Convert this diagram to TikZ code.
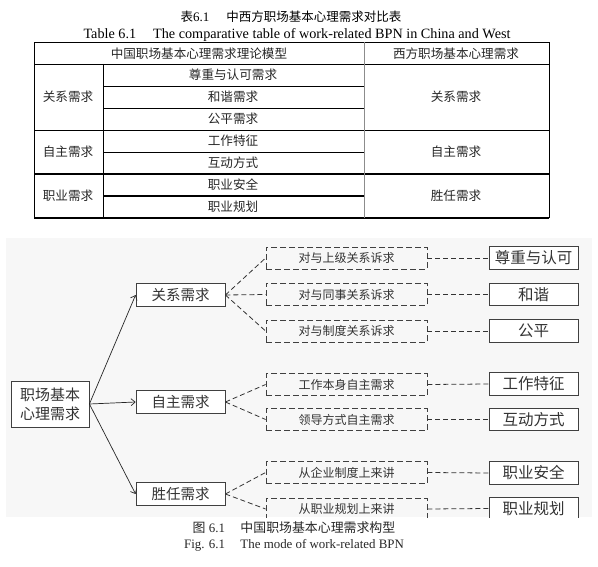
\documentclass[tikz,border=0pt]{standalone}
\usepackage{fontspec}
\setmainfont{Liberation Serif}
\newfontfamily\cjk{Noto Sans CJK SC}
\usetikzlibrary{arrows.meta}
\begin{document}
\begin{tikzpicture}[x=1pt,y=-1pt,
  tline/.style={draw=black, line width=0.7pt},
  thick line/.style={draw=black, line width=1.6pt},
  tcell/.style={font=\cjk\fontsize{12.6}{14}\selectfont, text=black!85, inner sep=0pt},
  ttitle/.style={font=\fontsize{14.2}{16}\selectfont, text=black, inner sep=0pt},
  solidbox/.style={draw=black!75, line width=0.8pt, fill=white, minimum width=89pt, minimum height=22.5pt, inner sep=0pt, text=black!80},
  rootbox/.style={solidbox, minimum width=78pt, minimum height=46pt, align=center, font=\cjk\fontsize{15}{19}\selectfont},
  midbox/.style={solidbox, font=\cjk\fontsize{14.5}{16}\selectfont},
  rightbox/.style={solidbox, font=\cjk\fontsize{15.5}{17}\selectfont},
  dbox/.style={draw=black!75, line width=0.8pt, dash pattern=on 6pt off 3pt, minimum width=161pt, minimum height=22pt, inner sep=0pt, text=black!80, font=\cjk\fontsize{12}{14}\selectfont},
  solidarrow/.style={draw=black!85, line width=0.7pt, -{Straight Barb[length=4pt,width=7pt]}},
  dline/.style={draw=black!80, line width=0.8pt, dash pattern=on 5pt off 3pt},
  capt/.style={font=\fontsize{12.9}{15}\selectfont, text=black!85, inner sep=0pt}
]
\useasboundingbox (0,0) rectangle (598,567);
% ---------- titles ----------
\node[ttitle] (t1) at (291,17) {{\cjk\fontsize{12.5}{15}\selectfont 表}{\fontsize{13}{15}\selectfont 6.1}\hspace{1.2em}{\cjk\fontsize{12.5}{15}\selectfont 中西方职场基本心理需求对比表}};
\node[ttitle] (t2) at (297,35) {Table 6.1\hspace{1.2em}The comparative table of work-related BPN in China and West};
% ---------- table lines ----------
\draw[tline] (34,42.5) -- (549,42.5);
\draw[tline] (34,64) -- (549,64);
\draw[tline] (103,86) -- (364,86);
\draw[tline] (103,108) -- (364,108);
\draw[tline] (34,130) -- (549,130);
\draw[tline] (103,152) -- (364,152);
\draw[thick line] (34,174) -- (549,174);
\draw[thick line] (103,196) -- (364,196);
\draw[thick line] (34,218) -- (549,218);
\draw[tline] (34,42.5) -- (34,218);
\draw[tline] (549,42.5) -- (549,218);
\draw[tline] (103,64) -- (103,218);
\draw[draw=black!45, line width=0.8pt] (364,42.5) -- (364,218);
% ---------- table text ----------
\node[tcell] (h1) at (199,53.5) {中国职场基本心理需求理论模型};
\node[tcell] (h2) at (456,53.5) {西方职场基本心理需求};
\node[tcell] (a1) at (68,97) {关系需求};
\node[tcell] (a2) at (68,152) {自主需求};
\node[tcell] (a3) at (68,196) {职业需求};
\node[tcell] (b1) at (233,75) {尊重与认可需求};
\node[tcell] (b2) at (233,97) {和谐需求};
\node[tcell] (b3) at (233,119) {公平需求};
\node[tcell] (b4) at (233,141) {工作特征};
\node[tcell] (b5) at (233,163) {互动方式};
\node[tcell] (b6) at (233,185) {职业安全};
\node[tcell] (b7) at (233,207) {职业规划};
\node[tcell] (c1) at (456,97) {关系需求};
\node[tcell] (c2) at (456,152) {自主需求};
\node[tcell] (c3) at (456,196) {胜任需求};
% ---------- diagram ----------
\begin{scope}
\clip (6,238) rectangle (592,517);
\fill[black!3] (6,238) rectangle (592,517);
\node[rootbox] (root) at (50,404) {职场基本\\心理需求};
\node[midbox] (m1) at (180.5,295) {关系需求};
\node[midbox] (m2) at (180.5,402) {自主需求};
\node[midbox] (m3) at (180.5,494) {胜任需求};
\node[dbox] (d1) at (346.5,258) {对与上级关系诉求};
\node[dbox] (d2) at (346.5,294.5) {对与同事关系诉求};
\node[dbox] (d3) at (346.5,331) {对与制度关系诉求};
\node[dbox] (d4) at (346.5,384.5) {工作本身自主需求};
\node[dbox] (d5) at (346.5,419.5) {领导方式自主需求};
\node[dbox] (d6) at (346.5,472.5) {从企业制度上来讲};
\node[dbox] (d7) at (346.5,509) {从职业规划上来讲};
\node[rightbox] (r1) at (533.5,258) {尊重与认可};
\node[rightbox] (r2) at (533.5,294.5) {和谐};
\node[rightbox] (r3) at (533.5,331) {公平};
\node[rightbox] (r4) at (533.5,384) {工作特征};
\node[rightbox] (r5) at (533.5,419.5) {互动方式};
\node[rightbox] (r6) at (533.5,473) {职业安全};
\node[rightbox] (r7) at (533.5,508.5) {职业规划};
\draw[solidarrow] (root.east) -- (m1.west);
\draw[solidarrow] (root.east) -- (m2.west);
\draw[solidarrow] (root.east) -- (m3.west);
\foreach \m/\d in {m1/d1,m1/d2,m1/d3,m2/d4,m2/d5,m3/d6,m3/d7}
  \draw[dline] (\m.east) -- (\d.west);
\foreach \d/\r in {d1/r1,d2/r2,d3/r3,d4/r4,d5/r5,d6/r6,d7/r7}
  \draw[dline] (\d.east) -- (\r.west);
\end{scope}
% ---------- captions ----------
\node[capt] (f1) at (294,528) {{\cjk 图}~6.1\hspace{1.2em}{\cjk 中国职场基本心理需求构型}};
\node[capt] (f2) at (294,545.5) {Fig. 6.1\hspace{1.2em}The mode of work-related BPN};
\end{tikzpicture}
\end{document}
